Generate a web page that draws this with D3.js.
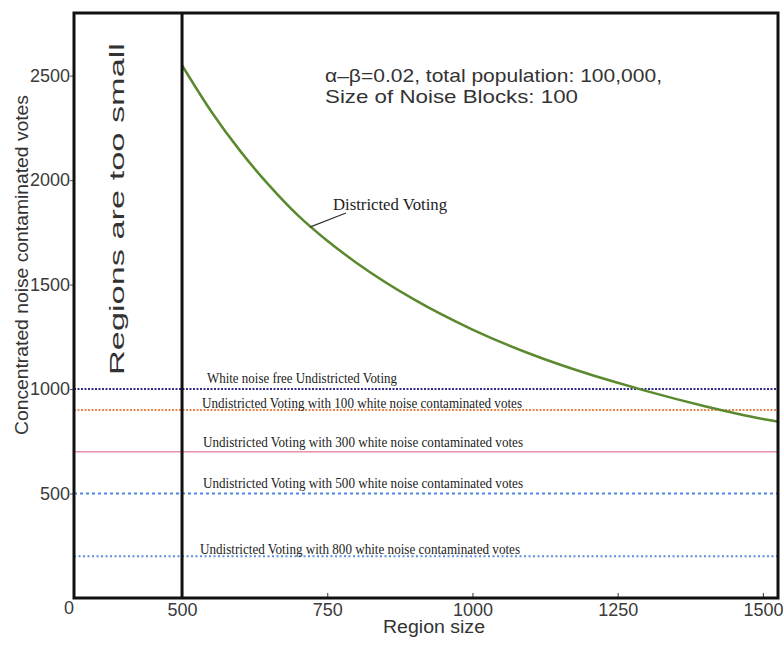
<!DOCTYPE html>
<html>
<head>
<meta charset="utf-8">
<script src="https://cdn.jsdelivr.net/npm/d3@7"></script>
<style>
  body { margin: 0; background: #fff; }
  svg { display: block; }
  .tick text { font-family: "Liberation Sans", Arial, sans-serif; fill: #3a3a3a; }
</style>
</head>
<body>
<div id="chart"></div>
<script>
// region sizes and districted-voting values
var regionSizes = [500, 550, 600, 650, 700, 750, 800, 900, 1000, 1100, 1200, 1250, 1300, 1400, 1500, 1525];
var districtedVotes = [2550, 2330, 2140, 1975, 1830, 1710, 1605, 1428, 1285, 1168, 1072, 1030, 990, 918, 857, 845];

// undistricted reference levels
var refLevels = [1000, 900, 700, 500, 200];
var refLabels = [
  'White noise free Undistricted Voting',
  'Undistricted Voting with 100 white noise contaminated votes',
  'Undistricted Voting with 300 white noise contaminated votes',
  'Undistricted Voting with 500 white noise contaminated votes',
  'Undistricted Voting with 800 white noise contaminated votes'
];
var refColors = ['#2e2c8c', '#e9864a', '#ec8fa8', '#4f86e6', '#5b8fe0'];
var refDash = ['2,1.5', '2,1.5', null, '3,3', '2,2.5'];

var xTicks = [500, 750, 1000, 1250, 1500];
var yTicks = [0, 500, 1000, 1500, 2000, 2500];

var W = 783, H = 646;
var plotL = 74, plotR = 778, plotT = 13, plotB = 598;

var svg = d3.select('#chart').append('svg')
  .attr('width', W).attr('height', H);

var x = d3.scaleLinear().domain([314, 1526]).range([plotL, plotR]);
var y = d3.scaleLinear().domain([0, 2800]).range([plotB, plotT]);

// axes
var xAxis = svg.append('g')
  .attr('transform', 'translate(0,' + plotB + ')')
  .call(d3.axisBottom(x).tickValues(xTicks).tickSize(-5).tickPadding(5).tickFormat(d3.format('d')));
xAxis.select('.domain').remove();
xAxis.selectAll('line').attr('stroke', '#333');
xAxis.selectAll('text').style('font-size', '18px');

var yAxis = svg.append('g')
  .attr('transform', 'translate(' + plotL + ',0)')
  .call(d3.axisLeft(y).tickValues(yTicks).tickSize(4).tickPadding(0).tickFormat(d3.format('d')));
yAxis.select('.domain').remove();
yAxis.selectAll('line').attr('stroke', '#555');
yAxis.selectAll('text').style('font-size', '18px');
yAxis.selectAll('.tick').filter(function(d){ return d === 0; })
  .select('text').attr('dy', '0.85em').attr('x', 0);
yAxis.selectAll('.tick').filter(function(d){ return d === 0; })
  .select('line').remove();

// reference lines
refLevels.forEach(function(v, i){
  svg.append('line')
    .attr('x1', plotL).attr('x2', plotR)
    .attr('y1', y(v)).attr('y2', y(v))
    .attr('stroke', refColors[i])
    .attr('stroke-width', i === 2 ? 1.5 : 2)
    .attr('stroke-dasharray', refDash[i]);
});

// districted voting curve
var line = d3.line()
  .x(function(d, i){ return x(regionSizes[i]); })
  .y(function(d){ return y(d); })
  .curve(d3.curveMonotoneX);
svg.append('path')
  .datum(districtedVotes)
  .attr('d', line)
  .attr('fill', 'none')
  .attr('stroke', '#5b8a2e')
  .attr('stroke-width', 2.5);

// frame and the 500 boundary
svg.append('rect')
  .attr('x', plotL).attr('y', plotT)
  .attr('width', plotR - plotL).attr('height', plotB - plotT)
  .attr('fill', 'none').attr('stroke', '#111').attr('stroke-width', 3);
svg.append('line')
  .attr('x1', x(500)).attr('x2', x(500))
  .attr('y1', plotT).attr('y2', plotB)
  .attr('stroke', '#111').attr('stroke-width', 3);

// rotated notice
svg.append('text')
  .attr('transform', 'translate(124,209) rotate(-90)')
  .attr('text-anchor', 'middle')
  .attr('textLength', 332)
  .attr('lengthAdjust', 'spacingAndGlyphs')
  .style('font-family', '"Liberation Sans", Arial, sans-serif')
  .style('font-size', '20px')
  .attr('fill', '#333')
  .text('Regions are too small');

// line labels (serif, condensed)
var labelPos = [[207, 383, 190], [202, 408, 320], [203, 447, 320], [203, 488, 320], [200, 554, 320]];
refLabels.forEach(function(t, i){
  svg.append('text')
    .attr('x', labelPos[i][0]).attr('y', labelPos[i][1])
    .attr('textLength', labelPos[i][2])
    .attr('lengthAdjust', 'spacingAndGlyphs')
    .style('font-family', '"Liberation Serif", "Times New Roman", serif')
    .style('font-size', '14px')
    .attr('fill', '#222')
    .text(t);
});

// districted voting label with pointer
svg.append('line')
  .attr('x1', x(720)).attr('y1', y(1775))
  .attr('x2', 346).attr('y2', 213)
  .attr('stroke', '#333').attr('stroke-width', 1.2);
svg.append('text')
  .attr('x', 333).attr('y', 210)
  .attr('textLength', 114)
  .attr('lengthAdjust', 'spacingAndGlyphs')
  .style('font-family', '"Liberation Serif", "Times New Roman", serif')
  .style('font-size', '17px')
  .attr('fill', '#222')
  .text('Districted Voting');

// parameter note
var noteLines = [
  ['\u03b1\u2013\u03b2=0.02, total population: 100,000,', 82, 337],
  ['Size of Noise Blocks: 100', 103, 253]
];
noteLines.forEach(function(n){
  svg.append('text')
    .attr('x', 325).attr('y', n[1])
    .attr('textLength', n[2])
    .attr('lengthAdjust', 'spacingAndGlyphs')
    .style('font-family', '"Liberation Sans", Arial, sans-serif')
    .style('font-size', '19px')
    .attr('fill', '#333')
    .text(n[0]);
});

// axis titles
svg.append('text')
  .attr('x', 434).attr('y', 633)
  .attr('text-anchor', 'middle')
  .attr('textLength', 102)
  .attr('lengthAdjust', 'spacingAndGlyphs')
  .style('font-family', '"Liberation Sans", Arial, sans-serif')
  .style('font-size', '18px')
  .attr('fill', '#333')
  .text('Region size');
svg.append('text')
  .attr('transform', 'translate(28,265) rotate(-90)')
  .attr('text-anchor', 'middle')
  .attr('textLength', 340)
  .attr('lengthAdjust', 'spacingAndGlyphs')
  .style('font-family', '"Liberation Sans", Arial, sans-serif')
  .style('font-size', '18px')
  .attr('fill', '#333')
  .text('Concentrated noise contaminated votes');
</script>
</body>
</html>
